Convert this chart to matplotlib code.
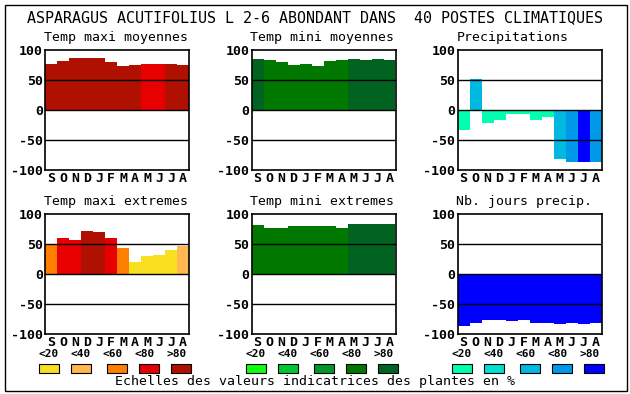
import matplotlib
matplotlib.use("Agg")
import matplotlib.pyplot as plt
from matplotlib.patches import Rectangle

W, H = 630, 394

months = ["S", "O", "N", "D", "J", "F", "M", "A", "M", "J", "J", "A"]
scale_labels = ["<20", "<40", "<60", ">80"]
scale_labels = ["<20", "<40", "<60", "<80", ">80"]

title = "ASPARAGUS ACUTIFOLIUS L 2-6 ABONDANT DANS  40 POSTES CLIMATIQUES"
footer = "Echelles des valeurs indicatrices des plantes en %"

# valeurs (%) et classe d'abondance (0: <20 ... 4: >80)
tmax_moy = [77, 82, 86, 86, 86, 80, 74, 75, 77, 77, 77, 75]
tmax_moy_cls = [4, 4, 4, 4, 4, 4, 4, 4, 3, 3, 4, 4]

tmin_moy = [85, 83, 80, 75, 77, 74, 82, 84, 85, 84, 85, 84]
tmin_moy_cls = [4, 3, 3, 3, 3, 3, 3, 3, 4, 4, 4, 4]

precip = [-34, 52, -21, -16, -7, -6, -16, -11, -82, -87, -87, -87]
precip_cls = [0, 2, 0, 0, 0, 0, 0, 0, 2, 3, 4, 3]

tmax_ext = [49, 60, 57, 72, 70, 60, 44, 20, 30, 32, 40, 47]
tmax_ext_cls = [2, 3, 3, 4, 4, 3, 2, 0, 0, 0, 0, 1]

tmin_ext = [82, 77, 77, 80, 80, 80, 80, 77, 84, 84, 84, 84]
tmin_ext_cls = [3, 3, 3, 3, 3, 3, 3, 3, 4, 4, 4, 4]

jours = [-86, -82, -76, -76, -78, -76, -81, -82, -84, -82, -84, -82]
jours_cls = [4] * 12

reds = ["#F8E020", "#FFB850", "#FF8000", "#E80000", "#B01000"]
greens = ["#10FF10", "#00C830", "#009828", "#007800", "#006420"]
blues = ["#00FFB0", "#00E0D0", "#00B8E0", "#0098E8", "#0000FF"]

MONO = "DejaVu Sans Mono"


def fig_box(x, y, w, h):
    return [x / W, 1 - (y + h) / H, w / W, h / H]


def panel(fig, x, y, name, values, classes, palette):
    ax = fig.add_axes(fig_box(x, y, 144, 120))
    ax.bar(range(12), values, width=1.0, color=[palette[c] for c in classes],
           linewidth=0, zorder=1)
    for v in (50, 0, -50):
        ax.axhline(v, color="black", linewidth=1.0, zorder=3)
    ax.set_xlim(-0.5, 11.5)
    ax.set_ylim(-100, 100)
    ax.set_yticks([-100, -50, 0, 50, 100])
    ax.set_yticklabels(["-100", "-50", "0", "50", "100"], fontfamily=MONO,
                       fontweight="bold", fontsize=9.5)
    ax.set_xticks(range(12))
    ax.set_xticklabels(months, fontfamily=MONO, fontweight="bold", fontsize=9.5)
    ax.tick_params(length=0, pad=1.5)
    for s in ax.spines.values():
        s.set_linewidth(1.2)
    fig.text((x - 1) / W, 1 - (y - 12) / H, name, fontfamily=MONO,
             fontsize=9.5, ha="left", va="center")
    return ax


def legend(fig, x0, palette):
    label_dx = [0, 32, 64, 96, 128]
    box_dx = [0, 32, 68, 100, 132]
    for i in range(5):
        fig.text((x0 + label_dx[i] + 10) / W, 1 - 354 / H, scale_labels[i],
                 fontfamily=MONO, fontweight="bold", fontsize=8,
                 ha="center", va="center")
        fig.add_artist(Rectangle(((x0 + box_dx[i]) / W, 1 - 373 / H), 20 / W, 9 / H,
                                 facecolor=palette[i], edgecolor="black",
                                 linewidth=0.8, transform=fig.transFigure))


def main():
    fig = plt.figure(figsize=(W / 100, H / 100), dpi=100)

    fig.add_artist(Rectangle((4.5 / W, 1 - 390.5 / H), 622 / W, 386 / H,
                             facecolor="none", edgecolor="black", linewidth=1.0,
                             transform=fig.transFigure))
    fig.text(27 / W, 1 - 18 / H, title, fontfamily=MONO, fontsize=10.8,
             ha="left", va="center")

    panel(fig, 45, 50, "Temp maxi moyennes", tmax_moy, tmax_moy_cls, reds)
    panel(fig, 251.5, 50, "Temp mini moyennes", tmin_moy, tmin_moy_cls, greens)
    panel(fig, 457.5, 50, "Precipitations", precip, precip_cls, blues)
    panel(fig, 45, 214, "Temp maxi extremes", tmax_ext, tmax_ext_cls, reds)
    panel(fig, 251.5, 214, "Temp mini extremes", tmin_ext, tmin_ext_cls, greens)
    panel(fig, 457.5, 214, "Nb. jours precip.", jours, jours_cls, blues)

    legend(fig, 39, reds)
    legend(fig, 245.5, greens)
    legend(fig, 451.5, blues)

    fig.text(315 / W, 1 - 381.5 / H, footer, fontfamily=MONO, fontsize=9.5,
             ha="center", va="center")

    fig.savefig("out.png", dpi=100)
    plt.close(fig)


if __name__ == "__main__":
    main()
